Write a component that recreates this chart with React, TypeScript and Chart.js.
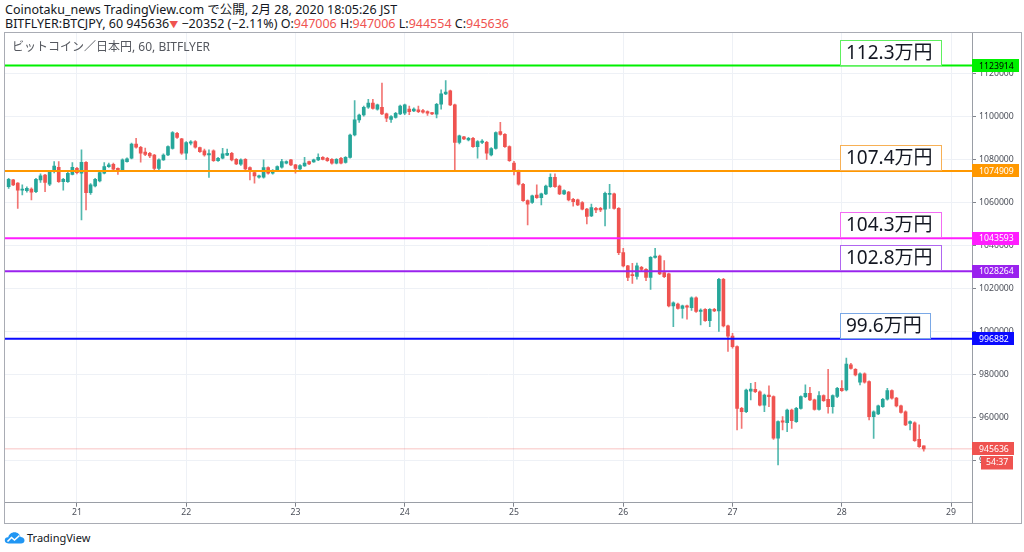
import React, { useEffect, useRef } from "react";
import { Chart, registerables } from "chart.js";

Chart.register(...registerables);

// Hourly candles, hour 0 = 21 Feb 2020 00:00 JST
const FIRST_HOUR = -15;

const OPENS = [
  1067600, 1070700, 1069200, 1066000, 1065700, 1066500, 1065300, 1070700, 1073000, 1068700, 1074600, 1076600, 1069900, 1069900, 1073300,
  1076100, 1073800, 1078900, 1064800, 1067900, 1070200, 1073800, 1076900, 1078000, 1076100, 1075400, 1079200, 1080800, 1087400, 1085900, 1083600, 1083100, 1082300, 1076100, 1080000, 1082300, 1085400, 1092400, 1089800,
  1083100, 1087800, 1088500, 1085700, 1084200, 1082300, 1084200, 1079700, 1080800, 1082200, 1083100, 1080300, 1078000, 1080300, 1076400, 1074100, 1072000, 1072000, 1076400, 1073800, 1075400, 1076600, 1078500, 1080000,
  1077700, 1075800, 1077200, 1079200, 1079100, 1080000, 1081200, 1080800, 1080300, 1078500, 1080800, 1078800, 1081200, 1091600, 1098600, 1100900, 1104500, 1106400, 1103600, 1104500, 1101400, 1098900, 1099800, 1101400,
  1101700, 1103600, 1102800, 1103300, 1103000, 1102500, 1102000, 1101300, 1105900, 1110700, 1112100, 1105600, 1088200, 1090700, 1089300, 1090100, 1086200, 1088100, 1088200, 1082300, 1085400, 1093200, 1091900, 1086200,
  1078500, 1074900, 1068700, 1061100, 1060200, 1063700, 1062500, 1064200, 1067600, 1071900, 1067900, 1064200, 1065000, 1061700, 1061400, 1060200, 1057100, 1054000, 1057500, 1057500, 1057100, 1064000, 1064200, 1057500,
  1036900, 1030700, 1026700, 1025800, 1030100, 1029100, 1025400, 1034700, 1035300, 1027600, 1027000, 1012100, 1013000, 1011000, 1012100, 1011300, 1015900, 1009500, 1010500, 1005300, 1010500, 1009800, 1024500, 1002800,
  998100, 993200, 964500, 962900, 972500, 973300, 972200, 966000, 970700, 969900, 950600, 958700, 957800, 963700, 958300, 964500, 969900, 971500, 968400, 964000, 970400, 968700, 965300, 970000,
  973800, 973000, 984700, 982600, 976600, 980500, 976900, 960600, 961900, 965300, 968700, 972700, 969200, 965600, 962900, 957500, 957800, 950100, 947006,
];

const HIGHS = [
  1071500, 1071000, 1069500, 1068400, 1067500, 1067000, 1071500, 1073500, 1073300, 1075000, 1079200, 1079200, 1071500, 1074500, 1078800,
  1076600, 1084700, 1079200, 1069000, 1071500, 1074500, 1078800, 1078500, 1078500, 1076300, 1080500, 1081000, 1087900, 1090100, 1086300, 1085500, 1083500, 1082600, 1080500, 1082800, 1086600, 1093200, 1092800, 1090000,
  1088500, 1089000, 1089000, 1086000, 1085000, 1084700, 1084700, 1081200, 1085400, 1085100, 1083500, 1080600, 1080500, 1080600, 1076800, 1074500, 1073000, 1080000, 1076800, 1075500, 1077300, 1080300, 1079600, 1080300,
  1078000, 1077800, 1081200, 1079500, 1080400, 1082800, 1081600, 1081200, 1080600, 1080600, 1081200, 1081600, 1092000, 1107600, 1101300, 1105000, 1108200, 1108200, 1106000, 1115700, 1101800, 1100600, 1102100, 1105500,
  1106000, 1105000, 1104200, 1105000, 1103500, 1102800, 1102200, 1106300, 1112600, 1116900, 1112500, 1106000, 1091600, 1091000, 1090500, 1090500, 1089000, 1089500, 1088600, 1085700, 1093100, 1097500, 1092300, 1086600,
  1079300, 1075300, 1069100, 1061500, 1063700, 1068400, 1064600, 1068300, 1073500, 1073500, 1068300, 1066100, 1065400, 1062100, 1061800, 1060600, 1057500, 1059500, 1058000, 1058000, 1065000, 1068700, 1064600, 1057900,
  1038900, 1031000, 1031900, 1032000, 1030500, 1029500, 1035100, 1038900, 1035700, 1033200, 1027400, 1014000, 1013400, 1012500, 1012500, 1016300, 1016300, 1010800, 1010900, 1010900, 1011000, 1024900, 1024900, 1003200,
  999400, 993600, 964900, 973400, 976100, 976600, 972600, 971100, 974900, 970300, 958700, 960600, 964100, 964100, 964900, 970300, 975400, 974300, 968800, 972300, 970800, 982600, 970800, 974200,
  977400, 987800, 985400, 983000, 981000, 981000, 977300, 963300, 966000, 969100, 973800, 973100, 969600, 966000, 963300, 958700, 958200, 956800, 947006,
];

const LOWS = [
  1066800, 1068000, 1057500, 1063700, 1065000, 1061400, 1064800, 1069500, 1065300, 1068000, 1074000, 1069500, 1066000, 1069500, 1073000,
  1073500, 1052100, 1056800, 1064000, 1067500, 1069800, 1073500, 1076500, 1075300, 1073300, 1075000, 1079000, 1080500, 1085500, 1079000, 1082000, 1081000, 1075500, 1075500, 1079800, 1082000, 1085000, 1090000, 1082600,
  1080300, 1087000, 1085500, 1083500, 1081800, 1071900, 1079300, 1079300, 1080500, 1082000, 1079600, 1077800, 1077500, 1075300, 1070700, 1069200, 1071500, 1071500, 1073400, 1073400, 1075000, 1076200, 1078200, 1077300,
  1073800, 1075400, 1077000, 1077800, 1078800, 1079700, 1080000, 1079300, 1078000, 1078200, 1078200, 1078500, 1080800, 1091200, 1097500, 1100400, 1104000, 1103600, 1103200, 1101000, 1097800, 1097400, 1099400, 1101000,
  1101000, 1101000, 1102400, 1102000, 1101800, 1100700, 1101000, 1099500, 1103600, 1110300, 1105200, 1075400, 1087500, 1089400, 1088800, 1085800, 1080800, 1087600, 1080300, 1081900, 1085000, 1091500, 1085800, 1079300,
  1073000, 1068300, 1060700, 1049800, 1059800, 1062100, 1059100, 1063800, 1067200, 1067200, 1063800, 1063800, 1061000, 1058500, 1058700, 1056700, 1050300, 1053600, 1055500, 1056000, 1049300, 1057500, 1057100, 1036000,
  1030300, 1023900, 1022600, 1024500, 1028000, 1023900, 1019800, 1034300, 1026600, 1025300, 1011700, 1002500, 1010600, 1006400, 1006000, 1010000, 1009100, 1003300, 1004900, 1002500, 1009400, 1000200, 1002400, 990900,
  992500, 954400, 955200, 962500, 968400, 971800, 965600, 962900, 965300, 950000, 938200, 954400, 953600, 955200, 957900, 964100, 969500, 968000, 963600, 963600, 967700, 962200, 962200, 969500,
  972300, 972600, 982700, 979600, 975400, 976200, 959100, 950500, 961500, 964900, 968300, 968800, 965200, 962200, 956400, 954400, 949100, 946300, 944554,
];

const CLOSES = [
  1071000, 1068400, 1066000, 1066300, 1066800, 1065000, 1071000, 1072600, 1069500, 1074600, 1077200, 1069900, 1071000, 1073800, 1076600,
  1074100, 1078900, 1064800, 1068400, 1071000, 1074100, 1076900, 1077700, 1075700, 1075000, 1080000, 1080500, 1087400, 1085900, 1083100, 1082600, 1081900, 1076100, 1080000, 1082300, 1086200, 1092700, 1090500, 1083100,
  1088100, 1088400, 1085900, 1083900, 1082300, 1083000, 1079700, 1080800, 1082800, 1083100, 1080000, 1078100, 1080000, 1075800, 1074600, 1072600, 1072600, 1076400, 1073800, 1075100, 1076900, 1079200, 1079200, 1077700,
  1076100, 1077400, 1078500, 1078100, 1080000, 1081200, 1080300, 1079700, 1078500, 1080300, 1078500, 1081200, 1091600, 1098600, 1100900, 1104500, 1106400, 1104000, 1105600, 1101400, 1099400, 1100200, 1101700, 1105100,
  1105600, 1102500, 1103600, 1102500, 1102200, 1101700, 1101400, 1105900, 1110700, 1111600, 1105600, 1088200, 1091200, 1089800, 1090100, 1086200, 1088500, 1088800, 1083100, 1085300, 1092700, 1091900, 1086200, 1079700,
  1074900, 1068700, 1061100, 1059400, 1063300, 1062500, 1064200, 1067900, 1071900, 1067600, 1064200, 1065700, 1061400, 1060600, 1059100, 1057100, 1053700, 1057900, 1056800, 1056800, 1064500, 1064500, 1057500, 1036900,
  1030700, 1025400, 1026200, 1030700, 1029100, 1025400, 1034700, 1035300, 1027000, 1025700, 1012100, 1013600, 1011000, 1012100, 1011500, 1015900, 1009500, 1010200, 1005300, 1010500, 1009800, 1024500, 1002800, 998100,
  993200, 964500, 962900, 973000, 973400, 972200, 966000, 970700, 969900, 950600, 958300, 958000, 963700, 958800, 964500, 969900, 971500, 968400, 964000, 970400, 968100, 965300, 970400, 973800,
  972700, 985100, 983100, 980000, 980500, 976600, 960600, 962900, 965600, 968700, 972700, 969200, 965600, 962600, 956800, 958300, 949500, 946700, 945636,
];

const DAY_TICKS = [0, 24, 48, 72, 96, 120, 144, 168, 192];
const DAY_LABELS = ["21", "22", "23", "24", "25", "26", "27", "28", "29"];
const PRICE_TICKS = [940000, 960000, 980000, 1000000, 1020000, 1040000, 1060000, 1080000, 1100000, 1120000];

const LEVELS = [1123914, 1074909, 1043593, 1028264, 996882];
const LEVEL_NOTES = ["112.3万円", "107.4万円", "104.3万円", "102.8万円", "99.6万円"];
const LAST_PRICE = 945636;
const COUNTDOWN = "54:37";

const X_MIN = -15.8;
const X_MAX = 196.6;
const Y_MIN = 920600;
const Y_MAX = 1139500;

// styles
const UP = "#26a69a";
const DOWN = "#ef5350";
const UP_WICK = "rgba(38,166,154,0.8)";
const DOWN_WICK = "rgba(239,83,80,0.8)";
const LEVEL_COLORS = ["#00f000", "#ff9800", "#ff1eff", "#9a22ee", "#0a0aff"];
const LEVEL_BOX_BORDERS = ["#5ef05e", "#f7b055", "#f36cf3", "#b066f0", "#7aa8e6"];
const LEVEL_TAG_TEXT = ["#000000", "#ffffff", "#ffffff", "#ffffff", "#ffffff"];
const AXIS_COLOR = "#9a9ea6";
const GRID_COLOR = "#eef1f6";
const LABEL_COLOR = "#4a4e58";
const FONT = "'Noto Sans', 'Noto Sans CJK JP', sans-serif";
const AXIS_FONT_SIZE = 8.7;

const CANVAS_LEFT = 4;
const CANVAS_TOP = 32;
const CANVAS_W = 1018;
const CANVAS_H = 492;
const NOTE_LEFT = 836;

const overlayPlugin = {
  id: "overlay",
  afterDraw(chart: any) {
    const { ctx, chartArea, scales } = chart;
    const ys = scales.y;
    ctx.save();
    // y axis border continued through the time axis
    ctx.strokeStyle = AXIS_COLOR;
    ctx.lineWidth = 1;
    const ax = Math.round(chartArea.right) + 0.5;
    ctx.beginPath();
    ctx.moveTo(ax, 0);
    ctx.lineTo(ax, chart.height);
    ctx.stroke();

    // note boxes
    ctx.font = "19px " + FONT;
    ctx.textBaseline = "middle";
    ctx.textAlign = "left";
    LEVELS.forEach((lv, k) => {
      const py = ys.getPixelForValue(lv);
      const text = LEVEL_NOTES[k];
      const w = Math.round(ctx.measureText(text).width + 14);
      const h = 25;
      const top = Math.round(py - h) - 0.5;
      ctx.fillStyle = "#ffffff";
      ctx.fillRect(NOTE_LEFT, top, w, h);
      ctx.strokeStyle = LEVEL_BOX_BORDERS[k];
      ctx.lineWidth = 1;
      ctx.strokeRect(NOTE_LEFT + 0.5, top, w, h);
      ctx.fillStyle = "#131722";
      ctx.fillText(text, NOTE_LEFT + 6, top + h / 2 + 1);
    });

    // price tags on the axis
    ctx.font = AXIS_FONT_SIZE + "px " + FONT;
    const tag = (value: number, bg: string, fg: string, width: number) => {
      const py = ys.getPixelForValue(value);
      ctx.fillStyle = bg;
      ctx.fillRect(chartArea.right, Math.round(py - 6.5), width, 13);
      ctx.fillStyle = fg;
      ctx.fillText(String(value), chartArea.right + 7, Math.round(py) + 0.5);
    };
    LEVELS.forEach((lv, k) => tag(lv, LEVEL_COLORS[k], LEVEL_TAG_TEXT[k], k === 4 ? 42 : 47));
    tag(LAST_PRICE, DOWN, "#ffffff", 42);
    const py = ys.getPixelForValue(LAST_PRICE);
    ctx.fillStyle = DOWN;
    ctx.fillRect(chartArea.right + 9, Math.round(py + 7.5), 32, 13.5);
    ctx.fillStyle = "#ffffff";
    ctx.fillText(COUNTDOWN, chartArea.right + 14, Math.round(py + 14.5));
    ctx.restore();
  },
};

export default function App() {
  const ref = useRef<HTMLCanvasElement | null>(null);

  useEffect(() => {
    if (!ref.current) return;
    const n = Math.min(OPENS.length, HIGHS.length, LOWS.length, CLOSES.length);
    const hours = Array.from({ length: n }, (_, i) => FIRST_HOUR + i);
    const isUp = hours.map((_, i) => CLOSES[i] >= OPENS[i]);
    const wickData = hours.map((h, i) => ({ x: h, y: [LOWS[i], HIGHS[i]] }));
    const bodyData = hours.map((h, i) => ({ x: h, y: [OPENS[i], CLOSES[i]] }));

    const levelSets = LEVELS.map((lv, k) => ({
      type: "line" as const,
      data: [
        { x: X_MIN, y: lv },
        { x: X_MAX, y: lv },
      ],
      borderColor: LEVEL_COLORS[k],
      borderWidth: 2,
      pointRadius: 0,
      order: 0,
    }));

    const chart = new Chart(ref.current, {
      type: "bar",
      data: {
        datasets: [
          {
            type: "line" as const,
            data: [
              { x: X_MIN, y: LAST_PRICE },
              { x: X_MAX, y: LAST_PRICE },
            ],
            borderColor: "rgba(239,83,80,0.35)",
            borderWidth: 1,
            pointRadius: 0,
            order: 3,
          } as any,
          {
            data: wickData as any,
            backgroundColor: isUp.map((u) => (u ? UP_WICK : DOWN_WICK)),
            barThickness: 1,
            grouped: false,
            borderWidth: 0,
            order: 2,
          } as any,
          {
            data: bodyData as any,
            backgroundColor: isUp.map((u) => (u ? UP : DOWN)),
            barThickness: 3,
            minBarLength: 1,
            grouped: false,
            borderWidth: 0,
            order: 1,
          } as any,
          ...(levelSets as any[]),
        ],
      },
      options: {
        animation: false,
        responsive: false,
        maintainAspectRatio: false,
        events: [],
        layout: { padding: { left: 1, right: 0, top: 0, bottom: 0 } },
        plugins: { legend: { display: false }, tooltip: { enabled: false } },
        scales: {
          x: {
            type: "linear",
            min: X_MIN,
            max: X_MAX,
            offset: false,
            afterBuildTicks: (s: any) => {
              s.ticks = DAY_TICKS.map((v) => ({ value: v }));
            },
            afterFit: (s: any) => {
              s.height = 21.3;
              s.paddingLeft = 0;
              s.paddingRight = 0;
            },
            grid: { color: GRID_COLOR, offset: false, tickLength: 4, tickColor: "#80848c", drawTicks: true },
            border: { display: true, color: AXIS_COLOR },
            ticks: {
              color: LABEL_COLOR,
              font: { family: FONT, size: AXIS_FONT_SIZE },
              padding: 1,
              maxRotation: 0,
              autoSkip: false,
              callback: (v: any) => DAY_LABELS[DAY_TICKS.indexOf(Number(v))] ?? "",
            },
          },
          y: {
            type: "linear",
            position: "right",
            min: Y_MIN,
            max: Y_MAX,
            afterBuildTicks: (s: any) => {
              s.ticks = PRICE_TICKS.map((v) => ({ value: v }));
            },
            afterFit: (s: any) => {
              s.width = 50;
              s.paddingTop = 0;
              s.paddingBottom = 0;
            },
            grid: { color: GRID_COLOR, tickLength: 4, tickColor: "#80848c", drawTicks: true },
            border: { display: true, color: AXIS_COLOR },
            ticks: {
              color: LABEL_COLOR,
              font: { family: FONT, size: AXIS_FONT_SIZE },
              padding: 3,
              autoSkip: false,
              callback: (v: any) => String(v),
            },
          },
        },
      } as any,
      plugins: [overlayPlugin],
    });
    return () => chart.destroy();
  }, []);

  const red = { color: DOWN };
  return (
    <div
      style={{
        position: "fixed",
        left: 0,
        top: 0,
        width: 1024,
        height: 552,
        background: "#ffffff",
        fontFamily: FONT,
        color: "#131722",
        overflow: "hidden",
      }}
    >
      <div style={{ position: "absolute", left: 5, top: 3, fontSize: 12.5, lineHeight: "13px", whiteSpace: "nowrap" }}>
        Coinotaku_news TradingView.com で公開, 2月 28, 2020 18:05:26 JST
      </div>
      <div style={{ position: "absolute", left: 5, top: 16.5, fontSize: 12.5, lineHeight: "13px", whiteSpace: "nowrap" }}>
        BITFLYER:BTCJPY, 60 945636<span style={{ ...red, fontSize: 9 }}>▼</span> −20352 (−2.11%) O:
        <span style={red}>947006</span> H:<span style={red}>947006</span> L:<span style={red}>944554</span> C:
        <span style={red}>945636</span>
      </div>
      <canvas
        ref={ref}
        width={CANVAS_W}
        height={CANVAS_H}
        style={{ position: "absolute", left: CANVAS_LEFT, top: CANVAS_TOP, width: CANVAS_W, height: CANVAS_H }}
      />
      <div
        style={{
          position: "absolute",
          left: CANVAS_LEFT,
          top: CANVAS_TOP,
          width: CANVAS_W,
          height: CANVAS_H,
          boxSizing: "border-box",
          border: "1px solid #a9acb4",
          pointerEvents: "none",
        }}
      />
      <div style={{ position: "absolute", left: 12, top: 39, fontSize: 12, lineHeight: "15px", color: "#55585f", whiteSpace: "nowrap" }}>
        ビットコイン／日本円, 60, BITFLYER
      </div>
      <svg style={{ position: "absolute", left: 4, top: 531 }} width={21} height={13} viewBox="0 0 21 13">
        <path
          d="M4.5 12.5 C1.5 12.5 0.5 10.5 0.8 8.8 C1.2 7 2.8 6.2 4.2 6.4 C4.8 3.4 7.4 1.2 10.5 1.2 C13.6 1.2 16 3.4 16.5 6 C18.8 6 20.5 7.6 20.5 9.4 C20.5 11.2 19 12.5 17 12.5 Z"
          fill="#2196f3"
        />
        <polyline points="3.5,10.5 7.5,6.5 10.5,9 15.5,4.5" fill="none" stroke="#ffffff" strokeWidth={1.6} />
      </svg>
      <div style={{ position: "absolute", left: 27, top: 531, fontSize: 11, lineHeight: "14px", color: "#131722", whiteSpace: "nowrap" }}>
        TradingView
      </div>
    </div>
  );
}
